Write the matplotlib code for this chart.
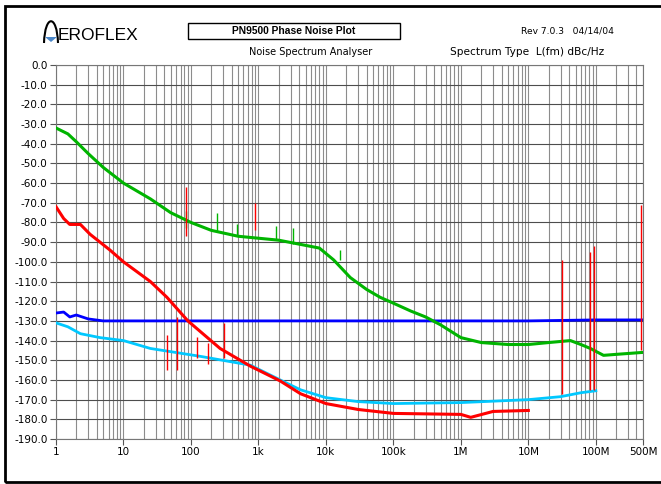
import matplotlib.pyplot as plt
from matplotlib.patches import Rectangle, PathPatch, Polygon
from matplotlib.path import Path
from matplotlib.ticker import LogLocator, NullFormatter

# Traces (offset frequency in Hz, level in dBc/Hz)
green_f = [1, 1.5, 2, 3, 5, 10, 25, 50, 100, 200, 500, 1e3, 2e3, 4e3, 8e3, 1.3e4,
           2.3e4, 4e4, 6.35e4, 1e5, 1.81e5, 3e5, 5e5, 1e6, 2e6, 5e6, 1e7, 2e7,
           4.2e7, 6e7, 8.3e7, 1.3e8, 2e8, 5e8]
green_db = [-32, -35, -39, -45, -52, -60, -68, -75, -80, -84, -87, -88, -89, -91, -93,
            -99, -108, -114, -118, -121, -125, -128, -132, -138.5, -141, -142, -142,
            -141, -140, -142, -144, -147.5, -147, -146]

red_f = [1, 1.3, 1.6, 2.3, 3.2, 6.3, 10, 25, 44, 90, 270, 760, 2100, 4200, 1e4, 3e4,
         1e5, 1e6, 1.4e6, 3e6, 1e7]
red_db = [-72, -78, -81, -81, -86, -94, -100, -110, -118, -130, -144, -153, -160.5,
          -167, -172, -175, -177, -177.5, -179, -176, -175.5]

blue_f = [1, 1.3, 1.6, 2, 3, 5, 10, 100, 1e3, 1e4, 1e5, 1e6, 1e7, 1e8, 5e8]
blue_db = [-126, -125.5, -128, -127, -129, -130, -130, -130, -130, -130, -130, -130,
           -130, -129.5, -129.5]

cyan_f = [1, 1.5, 2.3, 4.5, 10, 25, 137, 760, 2100, 4200, 1e4, 3e4, 1e5, 1e6, 1e7,
          3e7, 6e7, 1e8]
cyan_db = [-131, -133, -136.5, -138.5, -140, -144, -148, -152.5, -160, -165, -169,
           -171, -172, -171.5, -170, -168.5, -166.5, -165.5]

# Discrete spurs: frequency, top, bottom
red_spur_f = [44, 62, 85, 123, 180, 310, 900, 3.15e7, 8.3e7, 9.3e7, 4.6e8]
red_spur_top = [-137, -128, -62, -138, -141, -131, -70, -99, -95, -92, -71]
red_spur_bot = [-155, -155, -87, -149, -152, -149, -84, -167, -165, -165, -145]

green_spur_f = [85, 245, 485, 1800, 3300, 16400]
green_spur_top = [-74, -75, -81, -82, -83, -94]
green_spur_bot = [-83, -85, -87, -89, -91, -99]

y_ticks = list(range(0, -200, -10))
x_ticks = [1, 10, 100, 1e3, 1e4, 1e5, 1e6, 1e7, 1e8, 5e8]
x_labels = ['1', '10', '100', '1k', '10k', '100k', '1M', '10M', '100M', '500M']

W, H = 661, 484
fig = plt.figure(figsize=(W / 100, H / 100), dpi=100)
ax = fig.add_axes([56 / W, (H - 439) / H, (643 - 56) / W, (439 - 65) / H])

ax.set_xscale('log')
ax.set_xlim(1, 5e8)
ax.set_ylim(-190, 0)

# grid
ax.set_xticks(x_ticks)
ax.set_xticklabels(x_labels)
ax.set_yticks(y_ticks)
ax.set_yticklabels(['%.1f' % v for v in y_ticks])
ax.xaxis.set_minor_locator(LogLocator(base=10, subs=range(2, 10), numticks=20))
ax.xaxis.set_minor_formatter(NullFormatter())
ax.grid(True, axis='x', which='both', color='#8c8c8c', lw=0.8)
ax.grid(True, axis='y', which='major', color='#4d4d4d', lw=0.8)
ax.tick_params(axis='x', which='minor', length=0)
ax.tick_params(axis='both', which='major', length=4, width=0.8, color='#555555',
               labelsize=7.5, pad=2, labelcolor='black')
for s in ax.spines.values():
    s.set_color('#777777')
    s.set_linewidth(0.8)

ax.plot(cyan_f, cyan_db, color='#00c8ff', lw=2.0, zorder=3)
ax.plot(blue_f, blue_db, color='#0000ff', lw=2.0, zorder=4)
ax.plot(red_f, red_db, color='#ff0000', lw=2.2, zorder=5)
ax.plot(green_f, green_db, color='#00b400', lw=2.2, zorder=6)
ax.vlines(green_spur_f, green_spur_bot, green_spur_top, color='#00b400', lw=1, zorder=6)
ax.vlines(red_spur_f, red_spur_bot, red_spur_top, color='#ff0000', lw=1, zorder=7)

# header texts (pixel coords from top-left)
def px(x, y):
    return x / W, 1 - y / H

fig.text(*px(294, 31), 'PN9500 Phase Noise Plot', ha='center', va='center',
         fontsize=7.4, fontweight='bold', family='Liberation Sans')
fig.add_artist(Rectangle(px(188, 39), 212 / W, 16 / H, transform=fig.transFigure,
                         fill=False, ec='black', lw=1))
fig.text(*px(521, 31), 'Rev 7.0.3   04/14/04', ha='left', va='center', fontsize=6.6)
fig.text(*px(311, 52), 'Noise Spectrum Analyser', ha='center', va='center', fontsize=7)
fig.text(*px(450, 52), 'Spectrum Type  L(fm) dBc/Hz', ha='left', va='center',
         fontsize=7.6)

# logo
fig.text(*px(58, 36), 'EROFLEX', ha='left', va='center', fontsize=12.5,
         family='Liberation Sans')
arch = Path([px(44, 43), px(45, 14), px(57, 14), px(58, 43)],
            [Path.MOVETO, Path.CURVE4, Path.CURVE4, Path.CURVE4])
fig.add_artist(PathPatch(arch, transform=fig.transFigure, fill=False, ec='black', lw=1.5))
fig.add_artist(Polygon([px(45, 37), px(57, 37), px(51, 42)], closed=True,
                       transform=fig.transFigure, fc='#4a86c8', ec='none'))

# outer frame (right edge falls just outside the picture)
fig.add_artist(Rectangle(px(5, 482), 665 / W, 476 / H, transform=fig.transFigure,
                         fill=False, ec='black', lw=2))

fig.savefig('out.png', dpi=100)
